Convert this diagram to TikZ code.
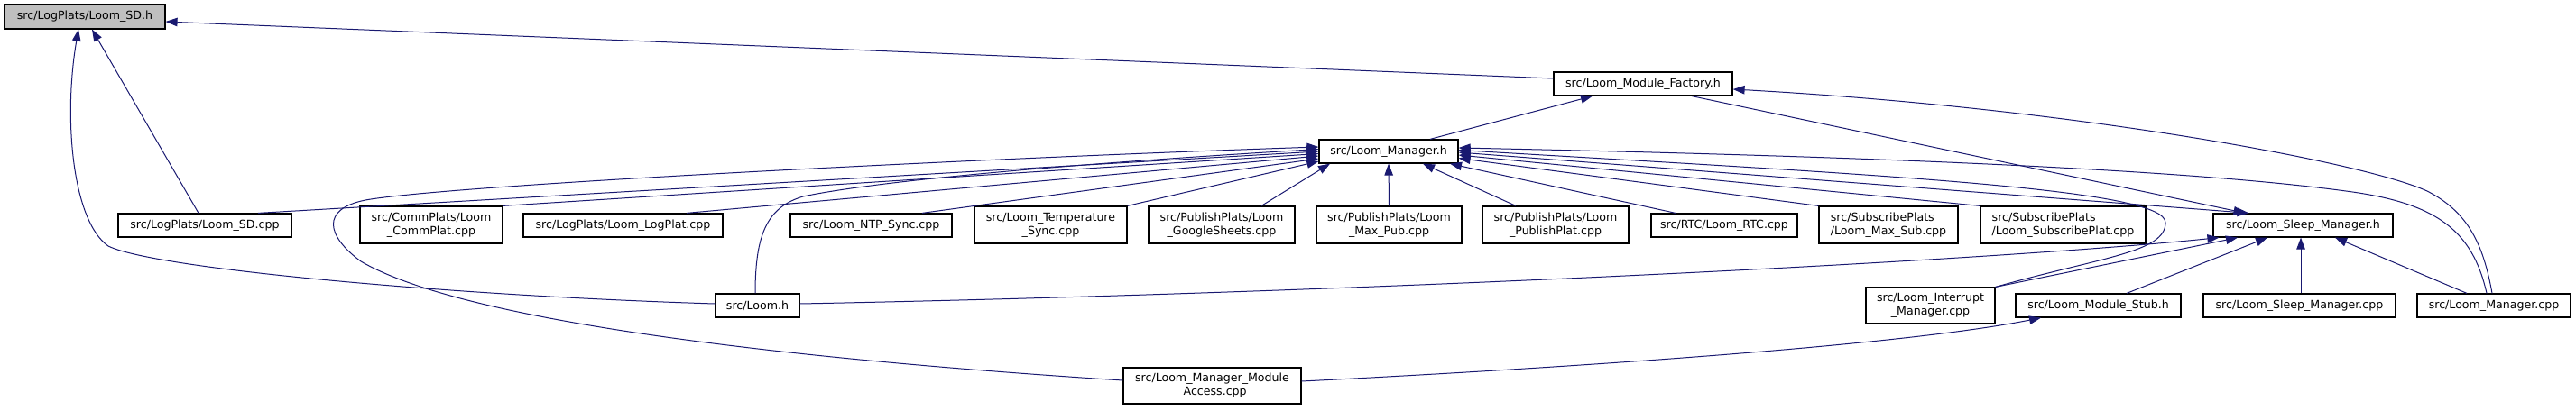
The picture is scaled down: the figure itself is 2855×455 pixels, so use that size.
\documentclass[tikz,border=0pt]{standalone}
\usepackage{fontspec}
\setmainfont{DejaVu Sans}
\usetikzlibrary{arrows.meta,calc}
\definecolor{edgec}{HTML}{191970}
\definecolor{rootfill}{HTML}{BFBFBF}
\tikzset{
  box/.style={draw=black, line width=1.2pt, fill=white, inner sep=0pt, text=black,
    font=\fontsize{12.6}{15}\selectfont, align=center},
  lbox/.style={box, align=left},
  edge/.style={draw=edgec, line width=1pt, -{Triangle[length=13pt,width=9.5pt]}},
  bedge/.style={draw=edgec, line width=1pt, {Triangle[length=13pt,width=9.5pt]}-{Triangle[length=13pt,width=9.5pt]}}
}
\begin{document}
\begin{tikzpicture}[x=1pt,y=-1pt]
\useasboundingbox (0,0) rectangle (2855,455);
% nodes
\node[box, fill=rootfill, minimum width=178pt, minimum height=27pt] (sdh) at (94,18.5) {src/LogPlats/Loom\_SD.h};
\node[box, minimum width=198pt, minimum height=26pt] (fac) at (1821,93) {src/Loom\_Module\_Factory.h};
\node[box, minimum width=154pt, minimum height=26pt] (mgrh) at (1539,168) {src/Loom\_Manager.h};
\node[box, minimum width=192pt, minimum height=26pt] (sdcpp) at (227,250) {src/LogPlats/Loom\_SD.cpp};
\node[box, minimum width=158pt, minimum height=41pt] (comm) at (478,249.5) {src/CommPlats/Loom\\\_CommPlat.cpp};
\node[box, minimum width=221pt, minimum height=26pt] (logplat) at (690.5,250) {src/LogPlats/Loom\_LogPlat.cpp};
\node[box, minimum width=179pt, minimum height=26pt] (ntp) at (965.5,250) {src/Loom\_NTP\_Sync.cpp};
\node[box, minimum width=169pt, minimum height=41pt] (temp) at (1164.5,249.5) {src/Loom\_Temperature\\\_Sync.cpp};
\node[box, minimum width=162pt, minimum height=41pt] (gsheets) at (1354,249.5) {src/PublishPlats/Loom\\\_GoogleSheets.cpp};
\node[box, minimum width=161pt, minimum height=41pt] (maxpub) at (1539.5,249.5) {src/PublishPlats/Loom\\\_Max\_Pub.cpp};
\node[box, minimum width=162pt, minimum height=41pt] (pubplat) at (1724,249.5) {src/PublishPlats/Loom\\\_PublishPlat.cpp};
\node[box, minimum width=162pt, minimum height=26pt] (rtc) at (1911,250) {src/RTC/Loom\_RTC.cpp};
\node[lbox, minimum width=154pt, minimum height=41pt] (maxsub) at (2093,249.5) {src/SubscribePlats\\/Loom\_Max\_Sub.cpp};
\node[lbox, minimum width=183pt, minimum height=41pt] (subplat) at (2286.5,249.5) {src/SubscribePlats\\/Loom\_SubscribePlat.cpp};
\node[box, minimum width=199pt, minimum height=26pt] (sleeph) at (2552.5,250) {src/Loom\_Sleep\_Manager.h};
\node[box, minimum width=93pt, minimum height=26pt] (loomh) at (839.5,339) {src/Loom.h};
\node[box, minimum width=197pt, minimum height=40pt] (access) at (1343.5,428) {src/Loom\_Manager\_Module\\\_Access.cpp};
\node[box, minimum width=143pt, minimum height=40pt] (intr) at (2139.5,339) {src/Loom\_Interrupt\\\_Manager.cpp};
\node[box, minimum width=183pt, minimum height=26pt] (stub) at (2325.5,339) {src/Loom\_Module\_Stub.h};
\node[box, minimum width=213pt, minimum height=26pt] (sleepcpp) at (2548.5,339) {src/Loom\_Sleep\_Manager.cpp};
\node[box, minimum width=170pt, minimum height=26pt] (mgrcpp) at (2764,339) {src/Loom\_Manager.cpp};
% edges
\draw[edge] ([yshift=6pt]fac.west) -- ([yshift=-5.5pt]sdh.east);
\draw[edge] ([xshift=-7pt]sdcpp.north) -- ([xshift=8pt]sdh.south);
\draw[edge] ([yshift=2pt]loomh.west) .. controls (500,328) and (170,298) .. (120,273) .. controls (80,245) and (70,130) .. ([xshift=-7pt]sdh.south);
\draw[edge] ([xshift=46pt]mgrh.north) -- ([xshift=-56pt]fac.south);
\draw[edge] ([xshift=54pt]fac.south) -- ([xshift=-64pt]sleeph.north);
\draw[edge] ([xshift=-2pt]mgrcpp.north) .. controls (2752,270) and (2735,235) .. (2690,212) .. controls (2620,180) and (2300,120) .. ([yshift=-6pt]fac.east);
\draw[edge] ([xshift=-8pt]mgrcpp.north) .. controls (2740,255) and (2700,225) .. (2600,212) .. controls (2400,185) and (2000,172) .. ([yshift=4pt]mgrh.east);
\draw[edge] (intr.north east) .. controls (2330,285) and (2400,280) .. (2400,247) .. controls (2400,210) and (2100,195) .. ([yshift=1.5pt]mgrh.east);
\draw[edge] ([yshift=2pt]loomh.east) .. controls (1500,325) and (2200,290) .. ([xshift=7pt]sleeph.south west);
\draw[edge] (intr.north east) -- ([xshift=-72.5pt]sleeph.south);
\draw[edge] ([xshift=31.5pt]stub.north) -- ([xshift=-39.5pt]sleeph.south);
\draw[edge] ([xshift=1.5pt]sleepcpp.north) -- ([xshift=-2.5pt]sleeph.south);
\draw[edge] ([xshift=-30pt]mgrcpp.north) -- ([xshift=35.5pt]sleeph.south);
\draw[edge] ([yshift=5pt]access.east) .. controls (1700,410) and (2100,385) .. ([xshift=-63.5pt]stub.south);
\draw[edge] ([yshift=6pt]access.west) .. controls (900,400) and (520,360) .. (400,290) .. controls (362,262) and (355,232) .. (405,222) .. controls (500,205) and (1100,175) .. ([yshift=5pt]mgrh.west);
\draw[edge] ([xshift=59pt]sdcpp.north) -- (mgrh.west);
\draw[edge] (comm.north east) -- ([yshift=-2.5pt]mgrh.west);
\draw[edge] ([xshift=70.5pt]logplat.north) -- ([yshift=-5pt]mgrh.west);
\draw[edge] ([xshift=56.5pt]ntp.north) -- ([yshift=-8pt]mgrh.west);
\draw[edge] (temp.north east) -- ([yshift=-11pt]mgrh.west);
\draw[edge] ([xshift=44pt]gsheets.north) -- ([xshift=-65pt]mgrh.south);
\draw[edge] (maxpub.north) -- (mgrh.south);
\draw[edge] ([xshift=-44pt]pubplat.north) -- ([xshift=38pt]mgrh.south);
\draw[edge] ([xshift=-54pt]rtc.north) -- ([xshift=68pt]mgrh.south);
\draw[edge] (maxsub.north west) -- ([yshift=-7.5pt]mgrh.east);
\draw[edge] (subplat.north west) -- ([yshift=-4pt]mgrh.east);
\draw[bedge] ([xshift=-60pt]sleeph.north) -- ([yshift=-1pt]mgrh.east);
\draw[edge] ([xshift=-2.5pt]loomh.north) .. controls (837,260) and (850,230) .. (890,218) .. controls (1000,195) and (1300,175) .. ([yshift=2.5pt]mgrh.west);
\end{tikzpicture}
\end{document}
